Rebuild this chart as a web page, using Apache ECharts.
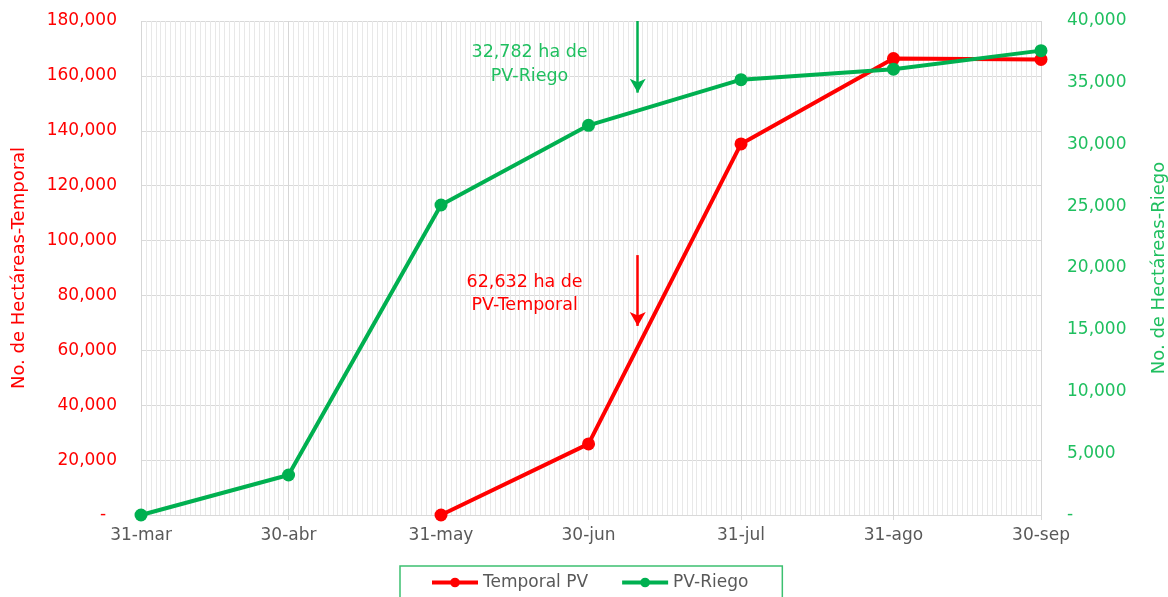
<!DOCTYPE html>
<html>
<head>
<meta charset="utf-8">
<script src="https://cdn.jsdelivr.net/npm/echarts@6/dist/echarts.min.js"></script>
<style>
  html, body { margin: 0; padding: 0; background: #fff; }
  #chart { width: 1168px; height: 597px; }
</style>
</head>
<body>
<div id="chart"></div>
<script>
// fechas de corte (etiquetas del eje x)
const tickLabels = ['31-mar', '30-abr', '31-may', '30-jun', '31-jul', '31-ago', '30-sep'];
// hectáreas acumuladas
const temporalPV = [null, null, 0, 25900, 135200, 166300, 166000];
const pvRiego = [0, 3240, 25100, 31550, 35250, 36100, 37600];

// categorías diarias (una línea de rejilla por día)
const months = [['abr', 30], ['may', 31], ['jun', 30], ['jul', 31], ['ago', 31], ['sep', 30]];
const days = ['31-mar'];
months.forEach(m => {
  for (let d = 1; d <= m[1]; d++) days.push(d + '-' + m[0]);
});

const isTick = (idx, val) => tickLabels.indexOf(val) >= 0;
const font = 'DejaVu Sans';
const red = '#ff0000';
const green = '#00b050';
const greenText = '#1fbf5f';

let mychart = echarts.init(document.getElementById('chart'));
let option = {
  animation: false,
  textStyle: { fontFamily: font },
  grid: { left: 141, right: 127, top: 21, bottom: 82, outerBoundsMode: 'none' },
  legend: {
    top: 566,
    left: 400,
    padding: [8, 34, 12, 30],
    borderColor: '#3cc070',
    borderWidth: 1.5,
    itemWidth: 46,
    itemHeight: 12,
    itemGap: 32,
    lineStyle: { width: 4 },
    textStyle: { color: '#595959', fontSize: 17, fontFamily: font },
    data: ['Temporal PV', 'PV-Riego']
  },
  xAxis: [
    {
      type: 'category',
      boundaryGap: false,
      data: days,
      axisLine: { lineStyle: { color: '#d9d9d9' } },
      axisTick: { interval: isTick, length: 5, lineStyle: { color: '#d9d9d9' } },
      axisLabel: { interval: isTick, color: '#595959', fontSize: 17, margin: 12 },
      splitLine: { show: true, interval: 0, lineStyle: { color: '#e8e8e8', width: 1 } }
    },
    {
      type: 'category',
      boundaryGap: false,
      data: days,
      position: 'bottom',
      axisLine: { show: false },
      axisTick: { show: false },
      axisLabel: { show: false },
      splitLine: { show: true, interval: isTick, lineStyle: { color: '#d6d6d6', width: 1 } }
    }
  ],
  yAxis: [
    {
      type: 'value',
      min: 0,
      max: 180000,
      interval: 20000,
      name: 'No. de Hectáreas-Temporal',
      nameLocation: 'middle',
      nameRotate: 90,
      nameGap: 113,
      nameTextStyle: { color: red, fontSize: 18 },
      axisLine: { show: false },
      axisTick: { show: false },
      axisLabel: {
        color: red,
        fontSize: 17,
        margin: 24,
        formatter: v => v === 0 ? '-  ' : v.toLocaleString('en-US')
      },
      splitLine: { lineStyle: { color: '#d9d9d9' } }
    },
    {
      type: 'value',
      min: 0,
      max: 40000,
      interval: 5000,
      name: 'No. de Hectáreas-Riego',
      nameLocation: 'middle',
      nameRotate: 90,
      nameGap: 109,
      nameTextStyle: { color: greenText, fontSize: 18 },
      axisLine: { show: false },
      axisTick: { show: false },
      axisLabel: {
        color: greenText,
        fontSize: 17,
        margin: 26,
        formatter: v => v === 0 ? '-' : v.toLocaleString('en-US')
      },
      splitLine: { show: false }
    }
  ],
  series: [
    {
      name: 'Temporal PV',
      type: 'line',
      yAxisIndex: 0,
      clip: false,
      symbol: 'circle',
      symbolSize: 13,
      lineStyle: { color: red, width: 4 },
      itemStyle: { color: red },
      data: tickLabels.map((d, i) => [d, temporalPV[i]]).filter(p => p[1] !== null),
      markLine: {
        silent: true,
        symbol: ['none', 'arrow'],
        symbolSize: [12, 14],
        label: { show: false },
        lineStyle: { color: red, width: 2.5, type: 'solid' },
        data: [[{ coord: ['10-jul', 94700] }, { coord: ['10-jul', 68900] }]]
      },
      markPoint: {
        silent: true,
        symbol: 'circle',
        symbolSize: 1,
        itemStyle: { color: 'rgba(0,0,0,0)' },
        label: {
          show: true,
          position: 'inside',
          color: red,
          fontSize: 17.5,
          lineHeight: 23,
          align: 'center',
          formatter: '62,632 ha de\nPV-Temporal'
        },
        data: [{ coord: ['17-jun', 80500] }]
      }
    },
    {
      name: 'PV-Riego',
      type: 'line',
      yAxisIndex: 1,
      clip: false,
      symbol: 'circle',
      symbolSize: 13,
      lineStyle: { color: green, width: 4 },
      itemStyle: { color: green },
      data: tickLabels.map((d, i) => [d, pvRiego[i]]),
      markLine: {
        silent: true,
        symbol: ['none', 'arrow'],
        symbolSize: [12, 14],
        label: { show: false },
        lineStyle: { color: green, width: 2.5, type: 'solid' },
        data: [[{ coord: ['10-jul', 40000] }, { coord: ['10-jul', 34200] }]]
      },
      markPoint: {
        silent: true,
        symbol: 'circle',
        symbolSize: 1,
        itemStyle: { color: 'rgba(0,0,0,0)' },
        label: {
          show: true,
          position: 'inside',
          color: greenText,
          fontSize: 17.5,
          lineHeight: 24,
          align: 'center',
          formatter: '32,782 ha de\nPV-Riego'
        },
        data: [{ coord: ['18-jun', 36450] }]
      }
    }
  ]
};
mychart.setOption(option);
</script>
</body>
</html>
